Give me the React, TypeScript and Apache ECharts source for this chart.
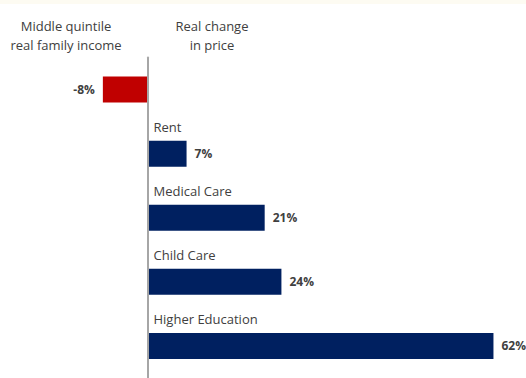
import React, { useEffect, useRef } from "react";
import * as echarts from "echarts";

const categories = ["", "Rent", "Medical Care", "Child Care", "Higher Education"];
const values = [-8, 7, 21, 24, 62];
const barColors = ["#C00000", "#002060", "#002060", "#002060", "#002060"];
const headerLeft = ["Middle quintile", "real family income"];
const headerRight = ["Real change", "in price"];

const FONT = "'Open Sans', 'Noto Sans', sans-serif";

export default function App() {
  const ref = useRef<HTMLDivElement>(null);
  useEffect(() => {
    if (!ref.current) return;
    const chart = echarts.init(ref.current, undefined, { renderer: "svg" });
    chart.setOption({
      animation: false,
      backgroundColor: "#ffffff",
      grid: { left: 8, top: 57.5, width: 502.2, height: 325, containLabel: false },
      xAxis: {
        type: "value",
        min: -25,
        max: 65,
        show: false,
        splitLine: { show: false },
      },
      yAxis: {
        type: "category",
        data: categories,
        inverse: true,
        axisLine: { show: true, onZero: true, lineStyle: { color: "#a6a6a6", width: 2 } },
        axisTick: { show: false },
        axisLabel: { show: false },
        z: 5,
      },
      series: [
        {
          type: "bar",
          data: values.map((v, i) => ({
            value: v,
            itemStyle: { color: barColors[i] },
            label: { position: v < 0 ? "left" : "right" },
          })),
          barWidth: 26,
          z: 2,
          label: {
            show: true,
            formatter: (p: any) => `${p.value}%`,
            distance: 8,
            fontFamily: FONT,
            fontSize: 12,
            fontWeight: "bold",
            color: "#404040",
          },
        },
        {
          type: "bar",
          data: values,
          barWidth: 26,
          barGap: "-100%",
          silent: true,
          z: 1,
          itemStyle: { color: "rgba(0,0,0,0)" },
          label: {
            show: true,
            formatter: (p: any) => p.name,
            position: [6, -20],
            align: "left",
            verticalAlign: "top",
            fontFamily: FONT,
            fontSize: 13,
            color: "#404040",
          },
        },
      ],
      graphic: [
        { type: "rect", shape: { x: 0, y: 0, width: 526, height: 4 }, style: { fill: "#fdfbf2" } },
        {
          type: "text",
          x: 66,
          y: 16,
          style: {
            text: headerLeft.join("\n"),
            fontFamily: FONT,
            fontSize: 13,
            lineHeight: 19,
            fill: "#404040",
            align: "center",
            verticalAlign: "top",
          },
        },
        {
          type: "text",
          x: 212,
          y: 16,
          style: {
            text: headerRight.join("\n"),
            fontFamily: FONT,
            fontSize: 13,
            lineHeight: 19,
            fill: "#404040",
            align: "center",
            verticalAlign: "top",
          },
        },
      ],
    });
    return () => chart.dispose();
  }, []);
  return (
    <div
      ref={ref}
      style={{ position: "absolute", left: 0, top: 0, width: 526, height: 378 }}
    />
  );
}
